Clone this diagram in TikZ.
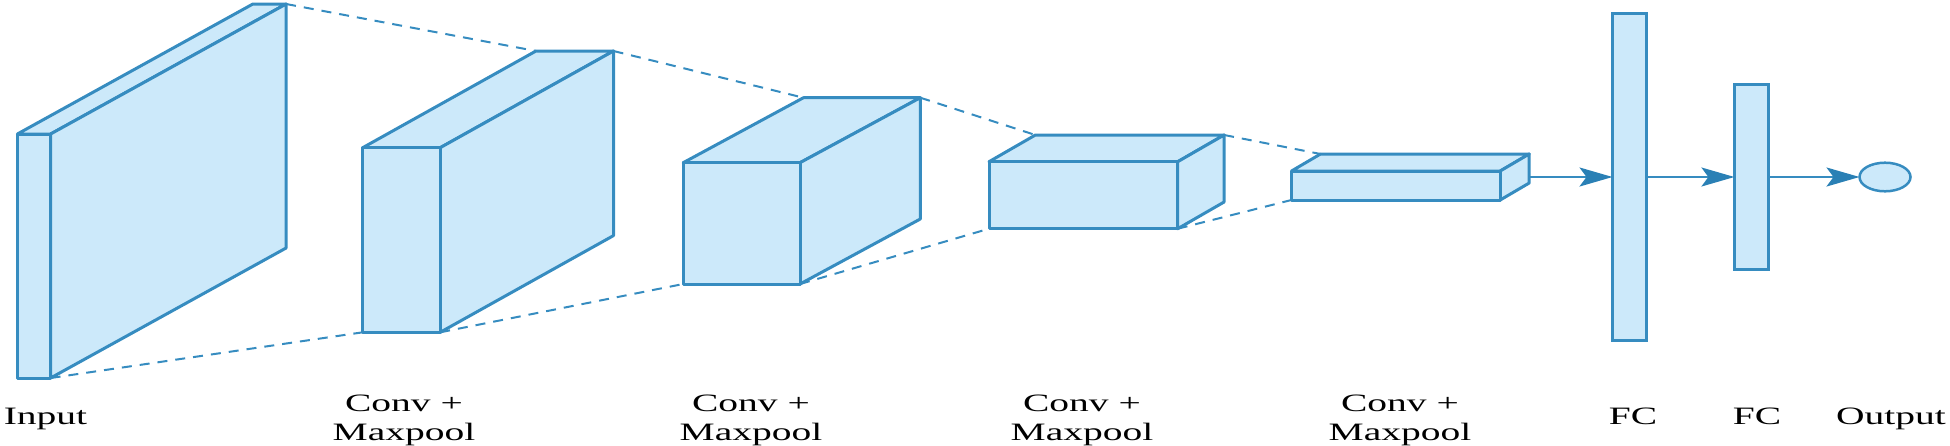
\documentclass[tikz,border=0pt]{standalone}
\usepackage{fontspec}
\setmainfont{Liberation Serif}
\usetikzlibrary{arrows.meta,calc,shapes.geometric}
\definecolor{lb}{RGB}{54,140,192}
\definecolor{ab}{RGB}{42,128,181}
\definecolor{fb}{RGB}{204,233,250}
\tikzset{
  slabface/.style={draw=lb, fill=fb, line width=3pt, line join=round},
  fcbox/.style={draw=lb, fill=fb, line width=3pt, rectangle, inner sep=0pt, outer sep=0pt},
  outnode/.style={draw=lb, fill=fb, line width=2.5pt, ellipse, inner sep=0pt, outer sep=0pt, minimum width=51pt, minimum height=28.6pt},
  dashlink/.style={draw=lb, line width=2pt, dash pattern=on 10pt off 8pt},
  arr/.style={draw=lb, line width=2.2pt, -{Stealth[length=33pt,width=19pt,inset=7pt,color=ab]}},
  lbl/.style={anchor=base, inner sep=0pt, font=\fontsize{25}{30}\selectfont}
}
\newcommand{\cnnslab}[7]{%
  \coordinate (#1-ftl) at (#2,#3);
  \coordinate (#1-ftr) at ($(#2,#3)+(#4,0)$);
  \coordinate (#1-fbl) at ($(#2,#3)+(0,#5)$);
  \coordinate (#1-fbr) at ($(#2,#3)+(#4,#5)$);
  \coordinate (#1-btl) at ($(#1-ftl)+(#6,#7)$);
  \coordinate (#1-btr) at ($(#1-ftr)+(#6,#7)$);
  \coordinate (#1-bbr) at ($(#1-fbr)+(#6,#7)$);
  \draw[slabface] (#1-ftl) -- (#1-btl) -- (#1-btr) -- (#1-ftr) -- cycle;
  \draw[slabface] (#1-ftr) -- (#1-btr) -- (#1-bbr) -- (#1-fbr) -- cycle;
  \draw[slabface] (#1-ftl) rectangle (#1-fbr);
}
\begin{document}
\begin{tikzpicture}[x=1pt,y=-1pt]
\useasboundingbox (0,0) rectangle (1950,445);
% slabs
\cnnslab{in}{17.4}{134}{33.2}{244}{235.5}{-130}
\cnnslab{sa}{362.7}{147.7}{77.5}{184.6}{173.3}{-96.7}
\cnnslab{sb}{683.2}{162.7}{116.8}{121.3}{120.3}{-65}
\cnnslab{sc}{989}{161.7}{188.7}{67}{46.4}{-26.7}
\cnnslab{sd}{1291.5}{171}{208.7}{29}{29}{-17}
% dashed projection lines
\draw[dashlink] (in-btr) -- (sa-btl);
\draw[dashlink] (sa-btr) -- (sb-btl);
\draw[dashlink] (sb-btr) -- (sc-btl);
\draw[dashlink] (sc-btr) -- (sd-btl);
\draw[dashlink] (in-fbr) -- (sa-fbl);
\draw[dashlink] (sa-fbr) -- (sb-fbl);
\draw[dashlink] (sb-fbr) -- (sc-fbl);
\draw[dashlink] (sc-fbr) -- (sd-fbl);
% fully connected
\node[fcbox, minimum width=34pt, minimum height=327.4pt] (fc1) at (1629.5,177) {};
\node[fcbox, minimum width=34pt, minimum height=185pt] (fc2) at (1751.4,177) {};
\node[outnode] (out) at (1885,177) {};
\coordinate (sdout) at (1529.2,177);
\draw[arr] (sdout) -- (fc1.west);
\draw[arr] (fc1.east) -- (fc2.west);
\draw[arr] (fc2.east) -- (out.west);
% labels
\node[lbl] (linput) at (45.5,424) {\scalebox{1.58}[1]{Input}};
\node[lbl] (la1) at (404,411.7) {\scalebox{1.58}[1]{Conv +}};
\node[lbl] (la2) at (404,440) {\scalebox{1.58}[1]{Maxpool}};
\node[lbl] (lb1) at (751,411.7) {\scalebox{1.58}[1]{Conv +}};
\node[lbl] (lb2) at (751,440) {\scalebox{1.58}[1]{Maxpool}};
\node[lbl] (lc1) at (1082,411.7) {\scalebox{1.58}[1]{Conv +}};
\node[lbl] (lc2) at (1082,440) {\scalebox{1.58}[1]{Maxpool}};
\node[lbl] (ld1) at (1400,411.7) {\scalebox{1.58}[1]{Conv +}};
\node[lbl] (ld2) at (1400,440) {\scalebox{1.58}[1]{Maxpool}};
\node[lbl] (lfc1) at (1633,424) {\scalebox{1.58}[1]{FC}};
\node[lbl] (lfc2) at (1757,424) {\scalebox{1.58}[1]{FC}};
\node[lbl] (lout) at (1891,424) {\scalebox{1.58}[1]{Output}};
\end{tikzpicture}
\end{document}
